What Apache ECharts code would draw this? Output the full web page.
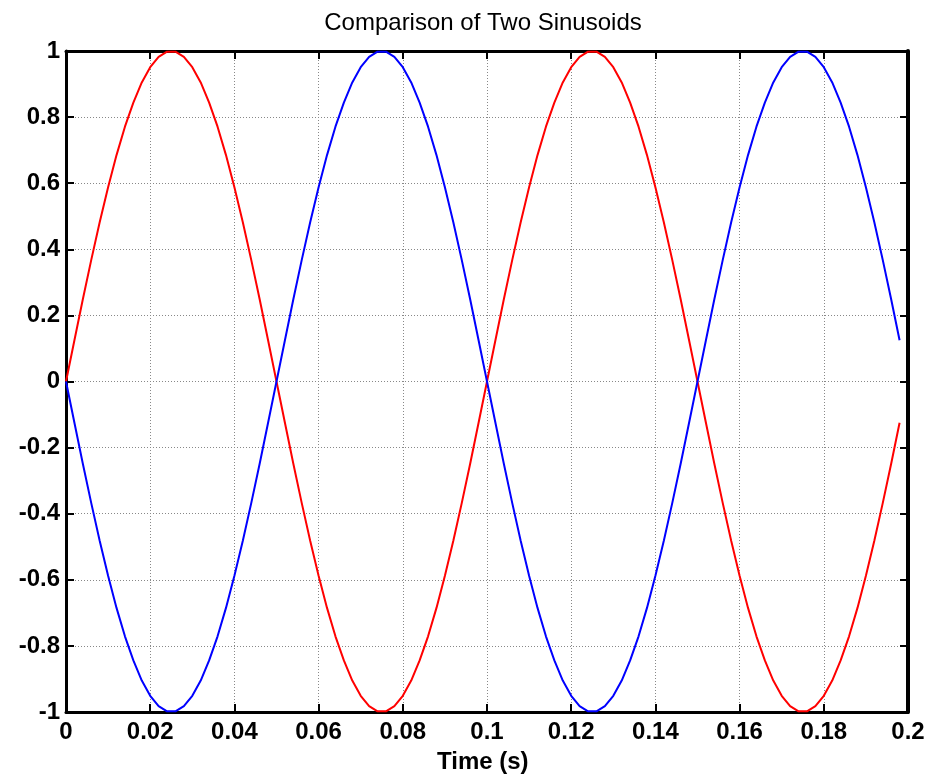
<!DOCTYPE html>
<html>
<head>
<meta charset="utf-8">
<script src="https://cdn.jsdelivr.net/npm/echarts@6/dist/echarts.min.js"></script>
<style>
html,body{margin:0;padding:0;background:#fff;}
#chart{width:929px;height:778px;}
</style>
</head>
<body>
<div id="chart"></div>
<script>
const titleText = 'Comparison of Two Sinusoids';
const xLabel = 'Time (s)';
const xTicks = [0, 0.02, 0.04, 0.06, 0.08, 0.1, 0.12, 0.14, 0.16, 0.18, 0.2];
const yTicks = [-1, -0.8, -0.6, -0.4, -0.2, 0, 0.2, 0.4, 0.6, 0.8, 1];

const times = [
  0.000,0.002,0.004,0.006,0.008,0.010,0.012,0.014,0.016,0.018,
  0.020,0.022,0.024,0.026,0.028,0.030,0.032,0.034,0.036,0.038,
  0.040,0.042,0.044,0.046,0.048,0.050,0.052,0.054,0.056,0.058,
  0.060,0.062,0.064,0.066,0.068,0.070,0.072,0.074,0.076,0.078,
  0.080,0.082,0.084,0.086,0.088,0.090,0.092,0.094,0.096,0.098,
  0.100,0.102,0.104,0.106,0.108,0.110,0.112,0.114,0.116,0.118,
  0.120,0.122,0.124,0.126,0.128,0.130,0.132,0.134,0.136,0.138,
  0.140,0.142,0.144,0.146,0.148,0.150,0.152,0.154,0.156,0.158,
  0.160,0.162,0.164,0.166,0.168,0.170,0.172,0.174,0.176,0.178,
  0.180,0.182,0.184,0.186,0.188,0.190,0.192,0.194,0.196,0.198
];

const redValues = [
  0, 0.125, 0.249, 0.368, 0.482, 0.588, 0.685, 0.771, 0.844, 0.905,
  0.951, 0.982, 0.998, 0.998, 0.982, 0.951, 0.905, 0.844, 0.771, 0.685,
  0.588, 0.482, 0.368, 0.249, 0.125, 0, -0.125, -0.249, -0.368, -0.482,
  -0.588, -0.685, -0.771, -0.844, -0.905, -0.951, -0.982, -0.998, -0.998, -0.982,
  -0.951, -0.905, -0.844, -0.771, -0.685, -0.588, -0.482, -0.368, -0.249, -0.125,
  0, 0.125, 0.249, 0.368, 0.482, 0.588, 0.685, 0.771, 0.844, 0.905,
  0.951, 0.982, 0.998, 0.998, 0.982, 0.951, 0.905, 0.844, 0.771, 0.685,
  0.588, 0.482, 0.368, 0.249, 0.125, 0, -0.125, -0.249, -0.368, -0.482,
  -0.588, -0.685, -0.771, -0.844, -0.905, -0.951, -0.982, -0.998, -0.998, -0.982,
  -0.951, -0.905, -0.844, -0.771, -0.685, -0.588, -0.482, -0.368, -0.249, -0.125
];

const blueValues = [
  0, -0.125, -0.249, -0.368, -0.482, -0.588, -0.685, -0.771, -0.844, -0.905,
  -0.951, -0.982, -0.998, -0.998, -0.982, -0.951, -0.905, -0.844, -0.771, -0.685,
  -0.588, -0.482, -0.368, -0.249, -0.125, 0, 0.125, 0.249, 0.368, 0.482,
  0.588, 0.685, 0.771, 0.844, 0.905, 0.951, 0.982, 0.998, 0.998, 0.982,
  0.951, 0.905, 0.844, 0.771, 0.685, 0.588, 0.482, 0.368, 0.249, 0.125,
  0, -0.125, -0.249, -0.368, -0.482, -0.588, -0.685, -0.771, -0.844, -0.905,
  -0.951, -0.982, -0.998, -0.998, -0.982, -0.951, -0.905, -0.844, -0.771, -0.685,
  -0.588, -0.482, -0.368, -0.249, -0.125, 0, 0.125, 0.249, 0.368, 0.482,
  0.588, 0.685, 0.771, 0.844, 0.905, 0.951, 0.982, 0.998, 0.998, 0.982,
  0.951, 0.905, 0.844, 0.771, 0.685, 0.588, 0.482, 0.368, 0.249, 0.125
];

const FONT = '"Liberation Sans", Arial, Helvetica, sans-serif';
const fmt = v => String(parseFloat(Number(v).toFixed(2)));

function pairs(xs, ys) { return xs.map((x, i) => [x, ys[i]]); }

function axisLine(w) { return { show: true, onZero: false, lineStyle: { color: '#000', width: w } }; }
const axisTick = { show: true, inside: true, length: 8, lineStyle: { color: '#000', width: 2 } };
const splitLine = { show: true, lineStyle: { color: '#888', width: 1, type: [1, 2] } };

const chart = echarts.init(document.getElementById('chart'), null, { renderer: 'canvas' });
chart.setOption({
  animation: false,
  backgroundColor: '#fff',
  title: {
    text: titleText,
    left: 478, top: 6, textAlign: 'center',
    textStyle: { fontFamily: FONT, fontSize: 24, fontWeight: 'normal', color: '#000' }
  },
  graphic: [{
    type: 'text', left: 437, top: 750,
    style: { text: xLabel, font: 'bold 24px ' + FONT, fill: '#000' }
  }],
  grid: { left: 66, right: 21, top: 51, bottom: 66, containLabel: false },
  xAxis: [{
    type: 'value', position: 'bottom',
    min: xTicks[0], max: xTicks[xTicks.length - 1], interval: 0.02,
    axisLine: axisLine(3), axisTick, splitLine,
    axisLabel: { show: true, margin: 8, formatter: fmt, color: '#000',
      fontFamily: FONT, fontSize: 24, fontWeight: 'bold' }
  }, {
    type: 'value', position: 'top',
    min: xTicks[0], max: xTicks[xTicks.length - 1], interval: 0.02,
    axisLine: axisLine(3), axisTick, splitLine: { show: false }, axisLabel: { show: false }
  }],
  yAxis: [{
    type: 'value', position: 'left',
    min: yTicks[0], max: yTicks[yTicks.length - 1], interval: 0.2,
    axisLine: axisLine(3), axisTick, splitLine,
    axisLabel: { show: true, margin: 6, formatter: fmt, color: '#000',
      fontFamily: FONT, fontSize: 24, fontWeight: 'bold' }
  }, {
    type: 'value', position: 'right',
    min: yTicks[0], max: yTicks[yTicks.length - 1], interval: 0.2,
    axisLine: axisLine(4), axisTick, splitLine: { show: false }, axisLabel: { show: false }
  }],
  series: [{
    name: 'red', type: 'line', xAxisIndex: 0, yAxisIndex: 0,
    data: pairs(times, redValues), showSymbol: false, symbol: 'none',
    lineStyle: { color: '#ff0000', width: 2 }, z: 3
  }, {
    name: 'blue', type: 'line', xAxisIndex: 0, yAxisIndex: 0,
    data: pairs(times, blueValues), showSymbol: false, symbol: 'none',
    lineStyle: { color: '#0000ff', width: 2 }, z: 3
  }]
});
</script>
</body>
</html>
